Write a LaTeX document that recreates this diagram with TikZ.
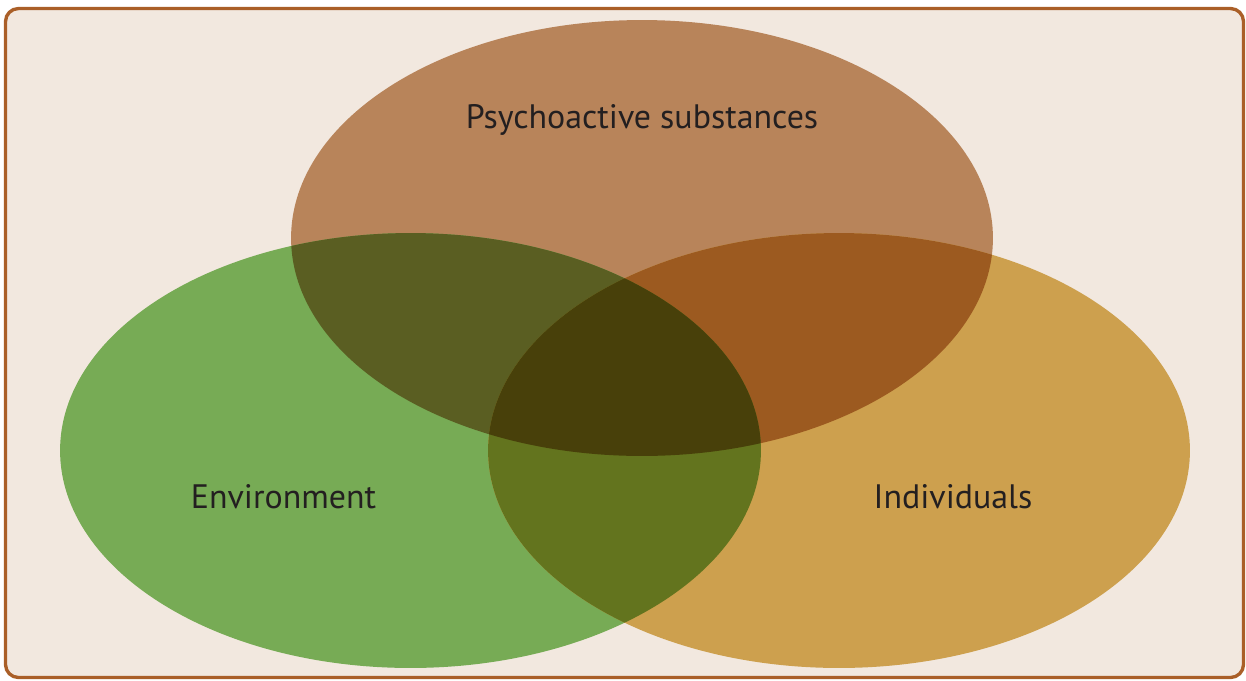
\documentclass[tikz,border=0pt]{standalone}
\usepackage{fontspec}
\setmainfont{PT Sans}
\definecolor{framebg}{HTML}{F2E8DF}
\definecolor{frameline}{HTML}{AA5F28}
\definecolor{topcol}{HTML}{B8845A}
\definecolor{leftcol}{HTML}{77AB55}
\definecolor{rightcol}{HTML}{CDA04E}
\definecolor{tlcol}{HTML}{5A5E22}
\definecolor{trcol}{HTML}{9C5A20}
\definecolor{lrcol}{HTML}{63741E}
\definecolor{midcol}{HTML}{48400A}
\definecolor{txt}{HTML}{231F20}
\tikzset{
  lbl/.style={text=txt, font=\fontsize{19.3}{23}\selectfont, inner sep=0pt},
  frame/.style={draw=frameline, fill=framebg, line width=1.9pt, rounded corners=0.26cm},
}
\begin{document}
\begin{tikzpicture}[x=0.02cm,y=-0.02cm]
\useasboundingbox (0,0) rectangle (1246,680);
\draw[frame] (5.5,8.5) rectangle (1243.5,677.5);
\def\topell{(642,238) ellipse [x radius=7.02cm, y radius=4.36cm]}
\def\leftell{(410.5,450.5) ellipse [x radius=7.01cm, y radius=4.35cm]}
\def\rightell{(839,450.5) ellipse [x radius=7.02cm, y radius=4.35cm]}
\fill[topcol] \topell;
\fill[leftcol] \leftell;
\fill[rightcol] \rightell;
\begin{scope}
  \clip \topell;
  \fill[tlcol] \leftell;
  \fill[trcol] \rightell;
\end{scope}
\begin{scope}
  \clip \leftell;
  \fill[lrcol] \rightell;
\end{scope}
\begin{scope}
  \clip \topell;
  \clip \leftell;
  \fill[midcol] \rightell;
\end{scope}
\node[lbl] (psy) at (642,120) {Psychoactive substances};
\node[lbl] (env) at (283.5,496.5) {Environment};
\node[lbl] (ind) at (953,496.5) {Individuals};
\end{tikzpicture}
\end{document}
